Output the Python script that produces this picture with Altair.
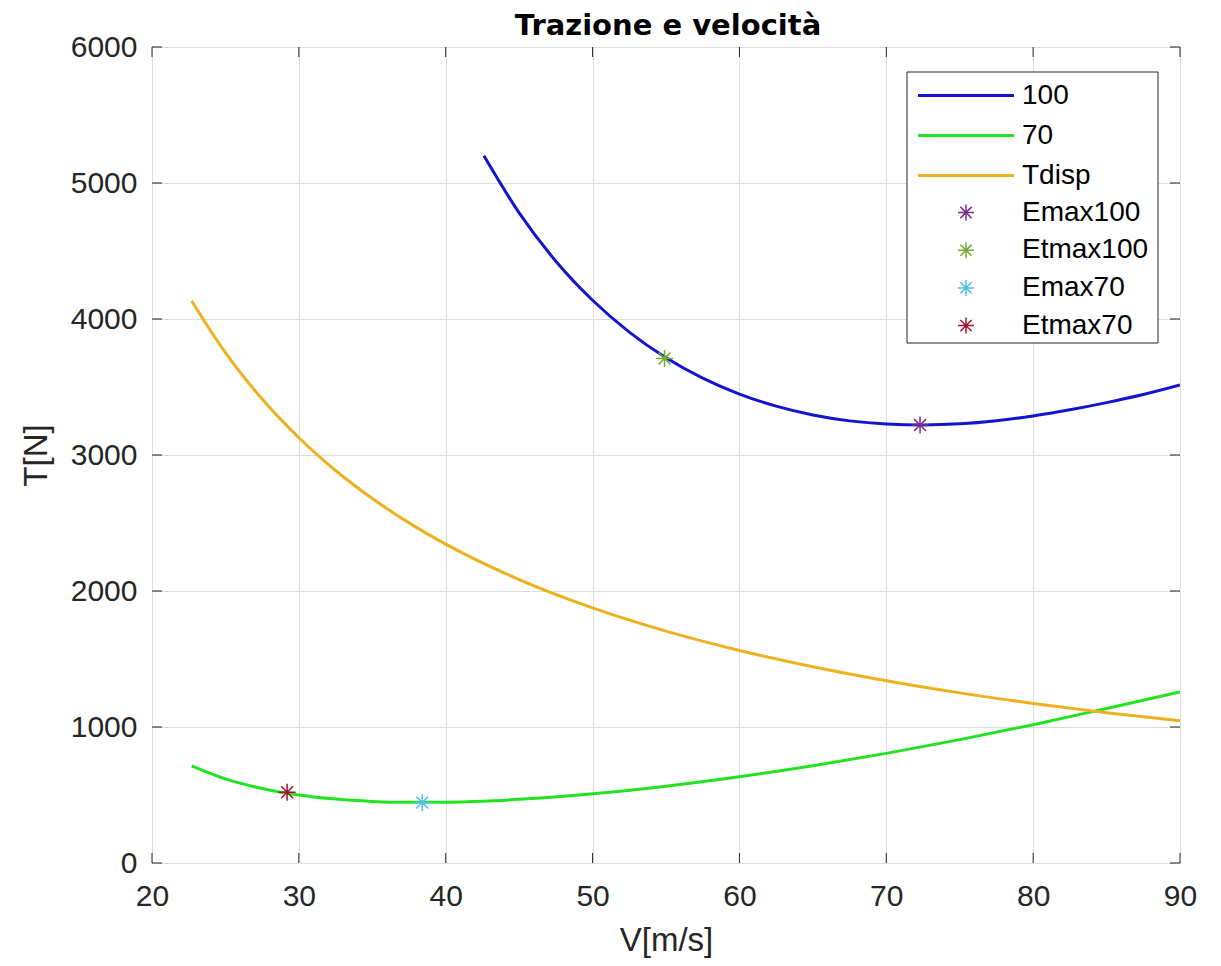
import altair as alt
import pandas as pd

# ---- data ----
v100 = [42.6, 45, 47.5, 50, 52.5, 55, 57.5, 60, 62.5, 65, 67.5, 70, 72.5, 75, 77.5, 80, 82.5, 85, 87.5, 90]
t100 = [5200, 4780, 4425, 4138, 3904, 3715, 3565, 3448, 3359, 3294, 3251, 3228, 3221, 3229, 3252, 3287, 3332, 3385, 3445, 3515]

v70 = [22.7, 25, 27.5, 30, 32.5, 35, 37.5, 40, 42.5, 45, 50, 55, 60, 65, 70, 75, 80, 85, 90]
t70 = [715, 619, 548, 500, 470, 453, 446, 447, 454, 468, 509, 565, 634, 715, 806, 907, 1017, 1136, 1257]

vdisp = [22.7, 25, 27.5, 30, 32.5, 35, 37.5, 40, 45, 50, 55, 60, 65, 70, 75, 80, 85, 90]
tdisp = [4132, 3752, 3411, 3127, 2886, 2680, 2501, 2345, 2084, 1876, 1705, 1563, 1443, 1340, 1251, 1173, 1104, 1045]

line_names = ["100", "70", "Tdisp"]
line_colors = ["#1414d0", "#22e322", "#EDB120"]

marker_names = ["Emax100", "Etmax100", "Emax70", "Etmax70"]
marker_colors = ["#7E2F8E", "#77AC30", "#4DBEEE", "#A2142F"]
marker_v = [72.3, 54.9, 38.4, 29.2]
marker_t = [3220, 3710, 445, 520]

x_ticks = [20, 30, 40, 50, 60, 70, 80, 90]
y_ticks = [0, 1000, 2000, 3000, 4000, 5000, 6000]

title_text = ["Trazione e velocità"]

# ---- tables ----
lines_df = pd.concat([
    pd.DataFrame({"series": line_names[0], "V": v100, "T": t100}),
    pd.DataFrame({"series": line_names[1], "V": v70, "T": t70}),
    pd.DataFrame({"series": line_names[2], "V": vdisp, "T": tdisp}),
], ignore_index=True)
markers_df = pd.DataFrame({"marker": marker_names, "V": marker_v, "T": marker_t})
xt_df = pd.DataFrame({"V": x_ticks})
yt_df = pd.DataFrame({"T": y_ticks})
box_df = pd.DataFrame({"k": [0]})
title_df = pd.DataFrame({"t": title_text})

W, H = 1028, 816
FONT = "Liberation Sans"
AX = "#262626"
ASTERISK = "M-1,0L1,0M0,-1L0,1M-0.7,-0.7L0.7,0.7M-0.7,0.7L0.7,-0.7"

xscale = alt.Scale(domain=[20, 90], nice=False, zero=False)
yscale = alt.Scale(domain=[0, 6000], nice=False)

xaxis = alt.Axis(values=x_ticks, format="d", title="V[m/s]", grid=True, gridColor="#dcdcdc",
                 gridWidth=1, ticks=False, domain=False, labelFontSize=30, labelColor=AX,
                 labelFont=FONT, labelPadding=18, titleFontSize=33, titleFont=FONT,
                 titleColor=AX, titleFontWeight="normal", titleBaseline="alphabetic",
                 titleX=514, titleY=87, labelFlush=False)
yaxis = alt.Axis(values=y_ticks, format="d", title="T[N]", grid=True, gridColor="#dcdcdc",
                 gridWidth=1, ticks=False, domain=False, labelFontSize=30, labelColor=AX,
                 labelFont=FONT, labelPadding=15, titleFontSize=33, titleFont=FONT,
                 titleColor=AX, titleFontWeight="normal", titleBaseline="alphabetic",
                 titleAngle=270, titleX=-106, titleY=408, titleAlign="center", labelFlush=False)

common_legend = dict(title=None, orient="none", padding=0, labelFont=FONT, labelFontSize=28,
                     labelColor="black", labelLimit=400, symbolSize=256, symbolOffset=45,
                     labelOffset=42, symbolOpacity=1)

line_legend = alt.Legend(legendX=755, legendY=34.5, rowPadding=12,
                         symbolType="M-6,0L6,0", symbolStrokeWidth=3,
                         symbolFillColor="transparent", **common_legend)
marker_legend = alt.Legend(legendX=755, legendY=151.5, rowPadding=9.7,
                           symbolType=ASTERISK, symbolStrokeWidth=1.5,
                           symbolFillColor="transparent", **common_legend)

legend_box = alt.Chart(box_df).mark_rect(fill="white", stroke=AX, strokeWidth=1).encode(
    x=alt.value(755), x2=alt.value(1006), y=alt.value(25), y2=alt.value(296))

lines = alt.Chart(lines_df).mark_line(strokeWidth=3, interpolate="monotone", clip=True).encode(
    x=alt.X("V:Q", scale=xscale, axis=xaxis),
    y=alt.Y("T:Q", scale=yscale, axis=yaxis),
    color=alt.Color("series:N", scale=alt.Scale(domain=line_names, range=line_colors),
                    legend=line_legend, sort=line_names),
)

points = alt.Chart(markers_df).mark_point(shape=ASTERISK, filled=False, size=289, strokeWidth=1.5,
                                          opacity=1).encode(
    x=alt.X("V:Q", scale=xscale),
    y=alt.Y("T:Q", scale=yscale),
    stroke=alt.Stroke("marker:N", scale=alt.Scale(domain=marker_names, range=marker_colors),
                      legend=marker_legend, sort=marker_names),
)

tick_bottom = alt.Chart(xt_df).mark_rule(color=AX, strokeWidth=1).encode(
    x=alt.X("V:Q", scale=xscale), y=alt.value(H), y2=alt.value(H - 10))
tick_top = alt.Chart(xt_df).mark_rule(color=AX, strokeWidth=1).encode(
    x=alt.X("V:Q", scale=xscale), y=alt.value(0), y2=alt.value(10))
tick_left = alt.Chart(yt_df).mark_rule(color=AX, strokeWidth=1).encode(
    y=alt.Y("T:Q", scale=yscale), x=alt.value(0), x2=alt.value(10))
tick_right = alt.Chart(yt_df).mark_rule(color=AX, strokeWidth=1).encode(
    y=alt.Y("T:Q", scale=yscale), x=alt.value(W), x2=alt.value(W - 10))

title_mark = alt.Chart(title_df).mark_text(
    font="DejaVu Sans", fontSize=29, fontWeight="bold", color="black", align="center",
    baseline="alphabetic", clip=False
).encode(text="t:N", x=alt.value(516), y=alt.value(-12))

chart = alt.layer(lines, points, tick_bottom, tick_top, tick_left, tick_right, legend_box,
                  title_mark).properties(
    width=W, height=H,
    autosize=alt.AutoSizeParams(type="none"),
    padding={"left": 144, "top": 39, "right": 33, "bottom": 95},
).resolve_scale(color="independent", stroke="independent"
).configure_view(stroke=AX, strokeWidth=1).configure(background="white")

chart.save("out.html", embed_options={"renderer": "svg", "actions": False})
